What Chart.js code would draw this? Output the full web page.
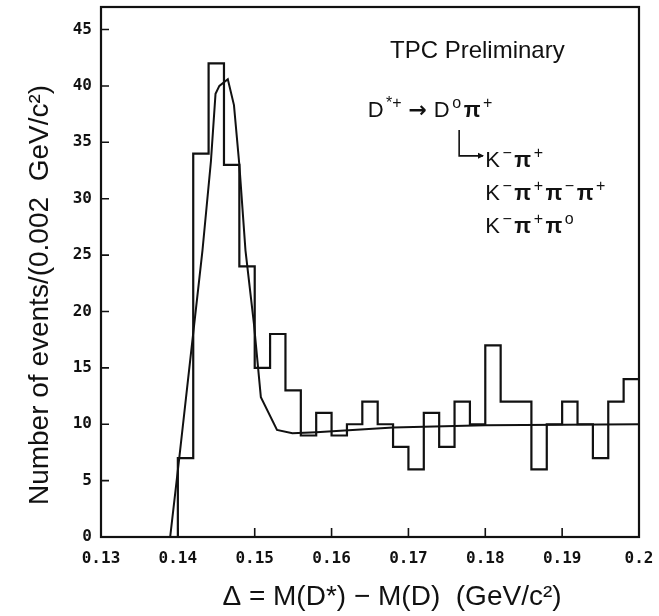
<!DOCTYPE html>
<html>
<head>
<meta charset="utf-8">
<title>D*+ mass difference</title>
<script src="https://cdn.jsdelivr.net/npm/chart.js"></script>
<style>
html, body { margin: 0; padding: 0; background: #fff; }
#wrap { position: relative; width: 659px; height: 616px; }
</style>
</head>
<body>
<div id="wrap"><canvas id="myChart"></canvas></div>
<script>
// histogram: bin edges (GeV/c2) and events per 0.002 GeV/c2 bin
let binEdges = [0.130, 0.132, 0.134, 0.136, 0.138, 0.140, 0.142, 0.144, 0.146, 0.148,
                0.150, 0.152, 0.154, 0.156, 0.158, 0.160, 0.162, 0.164, 0.166, 0.168,
                0.170, 0.172, 0.174, 0.176, 0.178, 0.180, 0.182, 0.184, 0.186, 0.188,
                0.190, 0.192, 0.194, 0.196, 0.198, 0.200]
let counts = [0, 0, 0, 0, 0, 7, 34, 42, 33, 24,
              15, 18, 13, 9, 11, 9, 10, 12, 10, 8,
              6, 11, 8, 12, 10, 17, 12, 12, 6, 10,
              12, 10, 7, 12, 14]

// fitted curve
let fitX = [0.1390, 0.1402, 0.1432, 0.1443, 0.1449, 0.1454, 0.1465, 0.1473, 0.1480,
            0.1488, 0.1499, 0.1508, 0.1529, 0.1549, 0.1580, 0.1680, 0.1800, 0.2000]
let fitY = [0, 7.1, 25.4, 33.3, 39.3, 40.0, 40.6, 38.3, 33.0,
            25.4, 18.9, 12.4, 9.5, 9.2, 9.3, 9.7, 9.9, 10.0]

// axes
let xTicks = [0.13, 0.14, 0.15, 0.16, 0.17, 0.18, 0.19, 0.20]
let xTickLabels = ['0.13', '0.14', '0.15', '0.16', '0.17', '0.18', '0.19', '0.2']
let yTicks = [0, 5, 10, 15, 20, 25, 30, 35, 40, 45]
let yTickLabels = ['0', '5', '10', '15', '20', '25', '30', '35', '40', '45']

let xTitle = 'Δ = M(D*) − M(D)  (GeV/c²)'
let yTitle = 'Number of events/(0.002  GeV/c²)'

const INK = '#111'
const SANS = '"Liberation Sans", Arial, sans-serif'
const MONO = '"DejaVu Sans Mono", monospace'

// histogram as a step line
let histPoints = binEdges.slice(0, -1).map((x, i) => ({ x: x, y: counts[i] }))
histPoints.push({ x: binEdges[binEdges.length - 1], y: counts[counts.length - 1] })
let fitPoints = fitX.map((x, i) => ({ x: x, y: fitY[i] }))

// text pieces: [text, kind]  0 = normal, 1 = superscript, 2 = bold, 3 = arrow
const notes = [
  { x: 0.1676, y: 42.5, size: 24, gap: 0, segs: [['TPC Preliminary', 0]] },
  { x: 0.1647, y: 37.25, size: 22, gap: 2.5, segs: [['D', 0], ['*+', 1], ['\u2009→\u2009', 3], ['D', 0], ['o', 1], ['π', 2], ['+', 1]] },
  { x: 0.1800, y: 32.8, size: 22, gap: 2.5, segs: [['K', 0], ['−', 1], ['π', 2], ['+', 1]] },
  { x: 0.1800, y: 29.9, size: 22, gap: 2.5, segs: [['K', 0], ['−', 1], ['π', 2], ['+', 1], ['π', 2], ['−', 1], ['π', 2], ['+', 1]] },
  { x: 0.1800, y: 26.95, size: 22, gap: 2.5, segs: [['K', 0], ['−', 1], ['π', 2], ['+', 1], ['π', 2], ['o', 1]] }
]

const frameAndTicks = {
  id: 'frameAndTicks',
  afterDatasetsDraw(chart) {
    const { ctx, chartArea: a, scales: { x, y } } = chart
    ctx.save()
    ctx.strokeStyle = INK
    ctx.lineWidth = 2.2
    ctx.strokeRect(a.left, a.top, a.right - a.left, a.bottom - a.top)
    ctx.lineWidth = 1.6
    ctx.beginPath()
    yTicks.forEach(v => {
      if (v === 0) return
      const py = y.getPixelForValue(v)
      ctx.moveTo(a.left, py); ctx.lineTo(a.left + 8, py)
    })
    xTicks.forEach(v => {
      const px = x.getPixelForValue(v)
      ctx.moveTo(px, a.bottom); ctx.lineTo(px, a.bottom - 9)
    })
    ctx.stroke()
    ctx.restore()
  }
}

const labels = {
  id: 'labels',
  afterDraw(chart) {
    const { ctx, chartArea: a, scales: { x, y } } = chart
    ctx.save()
    ctx.fillStyle = INK
    ctx.textBaseline = 'alphabetic'
    ctx.textAlign = 'left'
    notes.forEach(n => {
      let px = x.getPixelForValue(n.x)
      const py = y.getPixelForValue(n.y)
      n.segs.forEach(s => {
        if (s[1] === 1) ctx.font = Math.round(n.size * 0.72) + 'px ' + SANS
        else if (s[1] === 2) ctx.font = 'bold ' + n.size + 'px ' + SANS
        else if (s[1] === 3) ctx.font = 'bold ' + n.size + 'px "DejaVu Sans", sans-serif'
        else ctx.font = n.size + 'px ' + SANS
        ctx.fillText(s[0], px, s[1] === 1 ? py - 9 : py)
        px += ctx.measureText(s[0]).width + n.gap
      })
    })
    // bracket arrow from D0 down to the first decay mode
    const bx = x.getPixelForValue(0.1766)
    const by0 = y.getPixelForValue(36.1)
    const by1 = y.getPixelForValue(33.8)
    const ex = x.getPixelForValue(0.1797)
    ctx.strokeStyle = INK
    ctx.lineWidth = 1.6
    ctx.beginPath()
    ctx.moveTo(bx, by0); ctx.lineTo(bx, by1); ctx.lineTo(ex, by1)
    ctx.stroke()
    ctx.beginPath()
    ctx.moveTo(ex + 1, by1); ctx.lineTo(ex - 5, by1 - 3); ctx.lineTo(ex - 5, by1 + 3)
    ctx.closePath(); ctx.fill()

    // axis titles
    ctx.font = '28px ' + SANS
    ctx.textAlign = 'center'
    ctx.textBaseline = 'middle'
    ctx.fillText(xTitle, (a.left + a.right) / 2 + 22, a.bottom + 60)
    ctx.translate(40, (a.top + a.bottom) / 2 + 23)
    ctx.rotate(-Math.PI / 2)
    ctx.fillText(yTitle, 0, 0)
    ctx.restore()
  }
}

new Chart(document.getElementById('myChart'), {
  type: 'line',
  data: {
    datasets: [{
      label: 'Events',
      data: histPoints,
      stepped: 'before',
      borderColor: INK,
      borderWidth: 2.2,
      pointRadius: 0,
      fill: false
    }, {
      label: 'Fit',
      data: fitPoints,
      borderColor: INK,
      borderWidth: 2,
      pointRadius: 0,
      tension: 0,
      fill: false
    }]
  },
  options: {
    responsive: true,
    maintainAspectRatio: false,
    animation: false,
    layout: { padding: { top: 7, right: 20, left: 0, bottom: 0 } },
    plugins: { legend: { display: false }, tooltip: { enabled: false } },
    scales: {
      x: {
        type: 'linear',
        min: 0.13,
        max: 0.2,
        afterBuildTicks: s => { s.ticks = xTicks.map(v => ({ value: v })) },
        afterFit: s => { s.height = 79; s.paddingLeft = 0; s.paddingRight = 0 },
        grid: { display: false, drawTicks: false },
        border: { display: false },
        ticks: {
          autoSkip: false,
          maxRotation: 0,
          padding: 12,
          color: INK,
          font: { family: MONO, size: 16, weight: 'bold' },
          callback: (v, i) => xTickLabels[i]
        }
      },
      y: {
        min: 0,
        max: 47,
        afterBuildTicks: s => { s.ticks = yTicks.map(v => ({ value: v })) },
        afterFit: s => { s.width = 101; s.paddingTop = 0; s.paddingBottom = 0 },
        grid: { display: false, drawTicks: false },
        border: { display: false },
        ticks: {
          padding: 9,
          color: INK,
          font: { family: MONO, size: 16, weight: 'bold' },
          callback: (v, i) => yTickLabels[i]
        }
      }
    }
  },
  plugins: [frameAndTicks, labels]
})
</script>
</body>
</html>
